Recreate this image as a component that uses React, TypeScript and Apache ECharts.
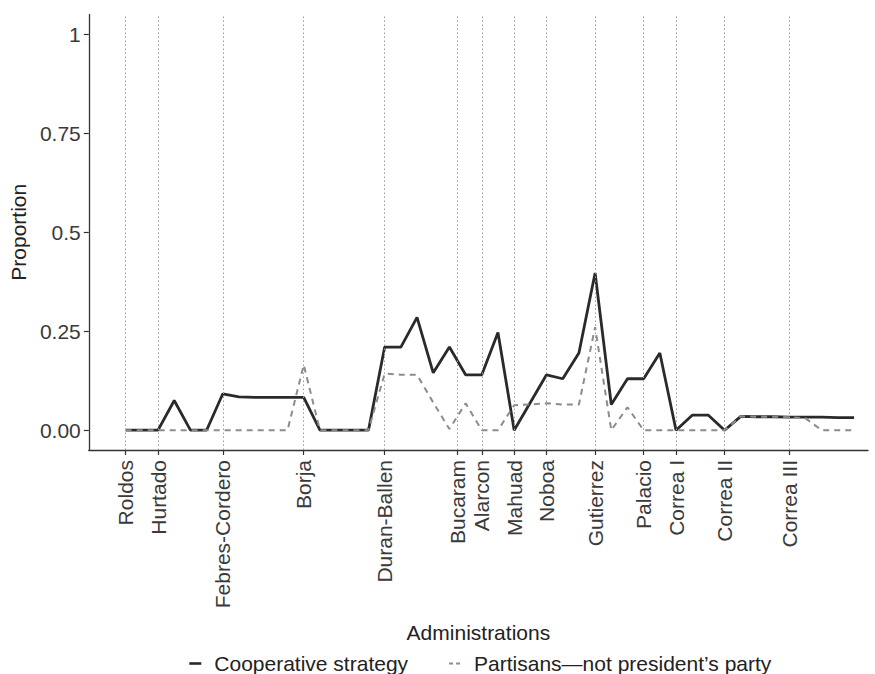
import React, { useEffect, useRef } from "react";
import * as echarts from "echarts";

// Administrations and the observation index where each one begins
const administrations = [
  "Roldos", "Hurtado", "Febres-Cordero", "Borja", "Duran-Ballen", "Bucaram", "Alarcon",
  "Mahuad", "Noboa", "Gutierrez", "Palacio", "Correa I", "Correa II", "Correa III",
];
const adminStart = [0, 2, 6, 11, 16, 20.5, 22, 24, 26, 29, 32, 34, 37, 41];

// Series values, one per observation (index 0..45)
const cooperative = [
  0, 0, 0, 0.075, 0, 0, 0.092, 0.084, 0.083, 0.083, 0.083, 0.083,
  0, 0, 0, 0,
  0.21, 0.21, 0.285, 0.145, 0.21, 0.14, 0.14, 0.247,
  0, 0.07, 0.14, 0.13, 0.195, 0.397, 0.065, 0.13, 0.13, 0.195,
  0, 0.038, 0.038, 0, 0.035, 0.034, 0.034, 0.033, 0.033, 0.033, 0.032, 0.032,
];
const partisans = [
  0, 0, 0, 0, 0, 0, 0, 0, 0, 0, 0, 0.165,
  0, 0, 0, 0,
  0.143, 0.14, 0.14, 0.07, 0.003, 0.068, 0, 0,
  0.063, 0.065, 0.068, 0.065, 0.065, 0.26, 0, 0.058, 0, 0,
  0, 0, 0, 0, 0.035, 0.034, 0.034, 0.033, 0.03, 0, 0, 0,
];

const yTickValues = [0, 0.25, 0.5, 0.75, 1];
const yTickLabels = ["0.00", "0.25", "0.5", "0.75", "1"];

const seriesNames = ["Cooperative strategy", "Partisans\u2014not president\u2019s party"];

const FONT = "'Liberation Sans', Arial, Helvetica, sans-serif";

export default function App() {
  const ref = useRef<HTMLDivElement>(null);

  useEffect(() => {
    if (!ref.current) return;
    const chart = echarts.init(ref.current, null, { renderer: "svg" });
    const option: any = {
      animation: false,
      backgroundColor: "#ffffff",
      grid: { left: 88, right: 7, top: 14.5, bottom: 224, containLabel: false },
      xAxis: {
        type: "value",
        min: -2.28,
        max: 45.86,
        name: "Administrations",
        nameLocation: "middle",
        nameGap: 172,
        nameTextStyle: { fontSize: 21, color: "#222", fontFamily: FONT },
        axisLine: { show: true, onZero: false, lineStyle: { color: "#333", width: 1.3 } },
        axisTick: {
          show: true,
          customValues: adminStart,
          length: 5,
          lineStyle: { color: "#333", width: 1.2 },
        },
        axisLabel: {
          show: true,
          customValues: adminStart,
          rotate: 90,
          margin: 10,
          fontSize: 21,
          color: "#3a3a3a",
          fontFamily: FONT,
          formatter: (v: number) => {
            const k = adminStart.indexOf(v);
            return k >= 0 ? administrations[k] : "";
          },
        },
        splitLine: { show: false },
      },
      yAxis: {
        type: "value",
        min: -0.05,
        max: 1.05,
        name: "Proportion",
        nameLocation: "middle",
        nameGap: 57,
        nameTextStyle: { fontSize: 21, color: "#222", fontFamily: FONT },
        axisLine: { show: true, onZero: false, lineStyle: { color: "#333", width: 1.3 } },
        axisTick: {
          show: true,
          customValues: yTickValues,
          length: 5,
          lineStyle: { color: "#333", width: 1.2 },
        },
        axisLabel: {
          show: true,
          customValues: yTickValues,
          margin: 8,
          fontSize: 21,
          color: "#3a3a3a",
          fontFamily: FONT,
          formatter: (v: number) => {
            const k = yTickValues.indexOf(v);
            return k >= 0 ? yTickLabels[k] : "";
          },
        },
        splitLine: { show: false },
      },
      legend: {
        left: 183,
        top: 648,
        itemWidth: 12,
        itemHeight: 10,
        itemGap: 40,
        textStyle: { fontSize: 21, color: "#222", fontFamily: FONT, padding: [0, 0, 0, 8] },
        data: [
          { name: seriesNames[0], itemStyle: { opacity: 0 }, lineStyle: { width: 2.6 } },
          { name: seriesNames[1], itemStyle: { opacity: 0 }, lineStyle: { type: [4, 3], width: 2 } },
        ],
      },
      series: [
        {
          name: seriesNames[0],
          type: "line",
          data: cooperative.map((v, i) => [i, v]),
          symbol: "none",
          lineStyle: { color: "#2a2a2a", width: 2.8 },
          itemStyle: { color: "#2a2a2a" },
          z: 2,
          markLine: {
            silent: true,
            symbol: ["none", "none"],
            label: { show: false },
            lineStyle: { color: "#9a9a9a", type: [1.5, 2.5], width: 1 },
            emphasis: { disabled: true },
            data: adminStart.map((x) => ({ xAxis: x })),
          },
        },
        {
          name: seriesNames[1],
          type: "line",
          data: partisans.map((v, i) => [i, v]),
          symbol: "none",
          lineStyle: { color: "#8c8c8c", width: 2, type: [6, 5] },
          itemStyle: { color: "#8c8c8c" },
          z: 3,
        },
      ],
    };
    chart.setOption(option);
    return () => chart.dispose();
  }, []);

  return (
    <div
      ref={ref}
      style={{ position: "fixed", left: 0, top: 0, width: 875, height: 674, background: "#fff" }}
    />
  );
}
